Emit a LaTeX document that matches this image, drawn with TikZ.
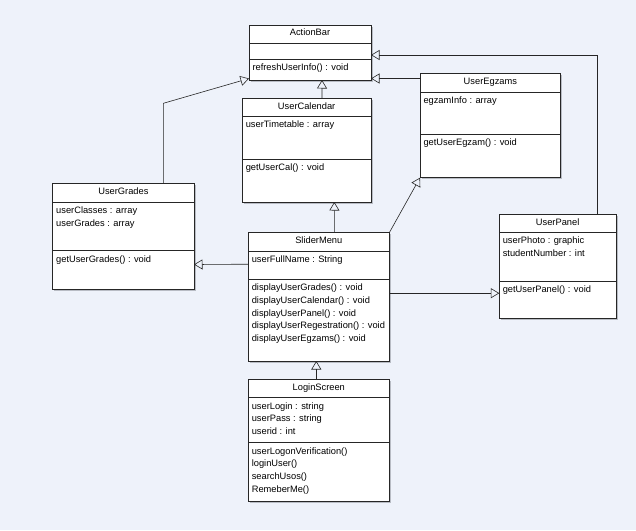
\documentclass[tikz,border=0pt]{standalone}
\usepackage{fontspec}
\setmainfont{Liberation Sans}
\usetikzlibrary{arrows.meta,calc}
\definecolor{bgc}{HTML}{EEF2FA}
\definecolor{linec}{HTML}{262626}
\definecolor{shadowc}{HTML}{B8BCC4}
\tikzset{
  classbox/.style={draw=linec, fill=white, line width=0.7pt, inner sep=0pt, outer sep=0pt},
  divline/.style={draw=linec, line width=0.7pt},
  txt/.style={inner sep=0pt, outer sep=0pt, font=\fontsize{9.3}{11}\selectfont, text=black},
  inh/.style={draw=linec, line width=0.6pt, -{Triangle[open, length=8.5pt, width=10pt]}},
}
\newcommand{\umlclass}[9]{%
  \fill[shadowc] (#2+1.5,#3+1.5) rectangle (#4+1.5,#5+1.5);
  \node[classbox, minimum width={#4pt-#2pt}, minimum height={#5pt-#3pt}, anchor=north west] (#1) at (#2,#3) {};
  \draw[divline] (#2,#6) -- (#4,#6);
  \draw[divline] (#2,#7) -- (#4,#7);
  \node[txt, anchor=base] (#1-title) at ({(#2+#4)/2},#3+10.7) {#1};
  \foreach \t [count=\i from 0] in {#8} {\node[txt, anchor=base west] (#1-a\i) at (#2+3.5,#6+11.5+\i*12.6) {\t};}
  \foreach \t [count=\i from 0] in {#9} {\node[txt, anchor=base west] (#1-m\i) at (#2+3.5,#7+11.5+\i*12.6) {\t};}
}
\begin{document}
\begin{tikzpicture}[x=1pt, y=-1pt]
\useasboundingbox[fill=bgc] (0,0) rectangle (636,530);

\umlclass{ActionBar}{249}{25}{371}{80}{43.3}{59.3}{}{refreshUserInfo() : void}
\umlclass{UserCalendar}{242.3}{98.3}{371}{202}{116}{159}{userTimetable : array}{getUserCal() : void}
\umlclass{UserEgzams}{420}{73.7}{560.7}{177.7}{92.3}{134.3}{egzamInfo : array}{getUserEgzam() : void}
\umlclass{UserGrades}{52.7}{183.3}{194}{289}{202}{250.7}{userClasses : array,userGrades : array}{getUserGrades() : void}
\umlclass{SliderMenu}{248.3}{232.7}{389.3}{361}{251}{279.3}{userFullName : String}{displayUserGrades() : void,displayUserCalendar() : void,displayUserPanel() : void,displayUserRegestration() : void,displayUserEgzams() : void}
\umlclass{UserPanel}{499.3}{214.3}{616}{318.3}{232}{281}{userPhoto : graphic,studentNumber : int}{getUserPanel() : void}
\umlclass{LoginScreen}{248.3}{379.3}{389.3}{501}{397.7}{442.7}{userLogin : string,userPass : string,userid : int}{userLogonVerification(),loginUser(),searchUsos(),RemeberMe()}

% generalisations
\draw[inh] ($(UserCalendar.north)+(15.3,0)$) -- ($(ActionBar.south)+(12,0)$);
\draw[inh] ($(UserEgzams.north west)+(0,4.8)$) -- ($(ActionBar.north east)+(0,53.5)$);
\draw[inh] ($(UserPanel.north)+(40,0)$) |- ($(ActionBar.north east)+(0,30)$);
\draw[inh] ($(UserGrades.north)+(40,0)$) -- ++(0,-80) -- ($(ActionBar.north west)+(0,53.5)$);
\draw[inh] ($(SliderMenu.north)+(15.5,0)$) -- ($(UserCalendar.south)+(27.7,0)$);
\draw[inh] (SliderMenu.north east) -- (UserEgzams.south west);
\draw[inh] ($(SliderMenu.north west)+(0,31.5)$) -- ($(UserGrades.north east)+(0,81.2)$);
\draw[inh] ($(SliderMenu.north east)+(0,60.5)$) -- ($(UserPanel.north west)+(0,78.9)$);
\draw[inh] ($(LoginScreen.north)+(-2.5,0)$) -- ($(SliderMenu.south)+(-2.5,0)$);
\end{tikzpicture}
\end{document}
